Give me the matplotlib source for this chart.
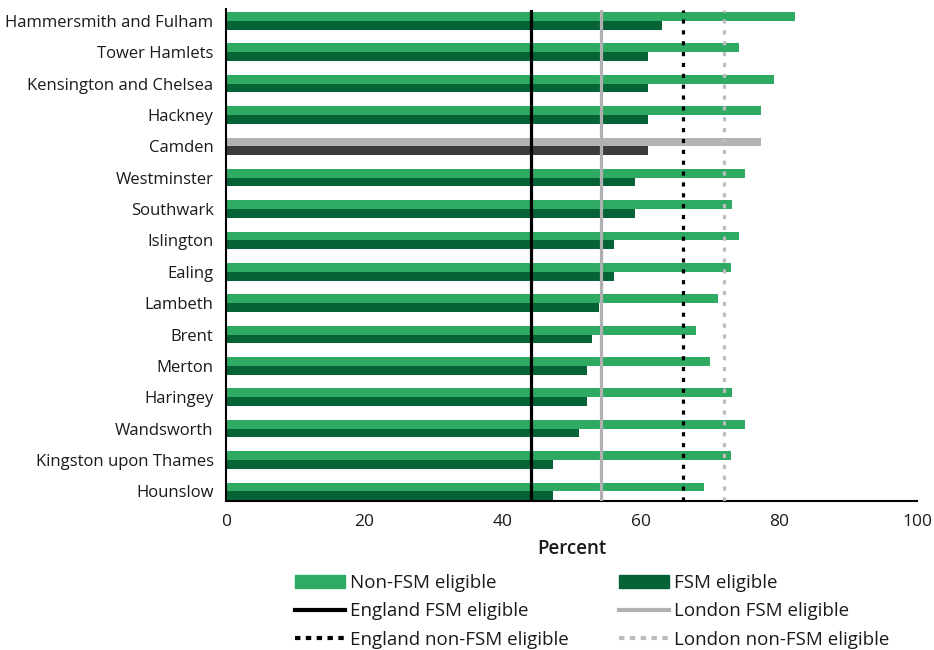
import matplotlib.pyplot as plt
import numpy as np
from matplotlib.patches import Patch
from matplotlib.lines import Line2D

plt.rcParams['font.family'] = ['Open Sans', 'DejaVu Sans']

boroughs = ['Hammersmith and Fulham', 'Tower Hamlets', 'Kensington and Chelsea', 'Hackney',
            'Camden', 'Westminster', 'Southwark', 'Islington', 'Ealing', 'Lambeth', 'Brent',
            'Merton', 'Haringey', 'Wandsworth', 'Kingston upon Thames', 'Hounslow']
non_fsm = [82.3, 74.2, 79.3, 77.4, 77.4, 75.1, 73.2, 74.2, 73.1, 71.2, 68.0, 70.0, 73.2, 75.1, 73.1, 69.2]
fsm = [63.1, 61.1, 61.1, 61.1, 61.1, 59.2, 59.2, 56.2, 56.2, 54.0, 53.0, 52.2, 52.2, 51.1, 47.3, 47.3]

england_fsm = 44.2
london_fsm = 54.3
england_non_fsm = 66.1
london_non_fsm = 72.1

highlight = 'Camden'

LIGHT = '#2eaa62'
DARK = '#066335'
LIGHT_HL = '#b3b3b3'
DARK_HL = '#3c3c3c'
TEXT = '#1a1a1a'

fig = plt.figure(figsize=(9.34, 6.5), dpi=100)
ax = fig.add_axes([226 / 934, 1 - 500.5 / 650, 691 / 934, 491 / 650])

y = np.arange(len(boroughs))
h = 0.28
c_light = [LIGHT_HL if b == highlight else LIGHT for b in boroughs]
c_dark = [DARK_HL if b == highlight else DARK for b in boroughs]
ax.barh(y - h / 2, non_fsm, h, color=c_light, zorder=2)
ax.barh(y + h / 2, fsm, h, color=c_dark, zorder=2)

lw = 2.3
ax.axvline(england_fsm, color='black', lw=lw, zorder=3)
ax.axvline(london_fsm, color='#b0b0b0', lw=lw, zorder=3)
ax.axvline(england_non_fsm, color='black', lw=lw, ls=(0, (1.3, 2.1)), zorder=3)
ax.axvline(london_non_fsm, color='#bdbdbd', lw=lw, ls=(0, (1.3, 2.1)), zorder=3)

ax.set_xlim(0, 100)
ax.set_ylim(15.29, -0.36)
ax.set_xticks(range(0, 101, 20))
ax.set_yticks(y)
ax.set_yticklabels(boroughs)
ax.tick_params(axis='x', length=0, labelsize=12.5, colors=TEXT, pad=10)
ax.tick_params(axis='y', length=0, labelsize=12, colors=TEXT, pad=9)
for s in ['top', 'right']:
    ax.spines[s].set_visible(False)
ax.spines['left'].set_linewidth(1.5)
ax.spines['bottom'].set_linewidth(1.5)
ax.set_xlabel('Percent', fontsize=13.5, fontweight='semibold', color=TEXT, labelpad=6)

# legend: two separate columns so their x positions can be set exactly
col1 = [
    (Patch(color=LIGHT), 'Non-FSM eligible'),
    (Line2D([], [], color='black', lw=3), 'England FSM eligible'),
    (Line2D([], [], color='black', lw=3, ls=(0, (1.3, 1.3))), 'England non-FSM eligible'),
]
col2 = [
    (Patch(color=DARK), 'FSM eligible'),
    (Line2D([], [], color='#b0b0b0', lw=3), 'London FSM eligible'),
    (Line2D([], [], color='#bdbdbd', lw=3, ls=(0, (1.3, 1.3))), 'London non-FSM eligible'),
]
for items, x0 in [(col1, 295), (col2, 619)]:
    leg = fig.legend([a for a, _ in items], [b for _, b in items], loc='upper left',
                     bbox_to_anchor=(x0 / 934, 1 - 574 / 650), frameon=False, fontsize=13.5,
                     handlelength=2.67, handleheight=0.75, handletextpad=0.27,
                     labelspacing=0.56, borderpad=0, borderaxespad=0)
    for t in leg.get_texts():
        t.set_color(TEXT)

fig.savefig('out.png', dpi=100)
